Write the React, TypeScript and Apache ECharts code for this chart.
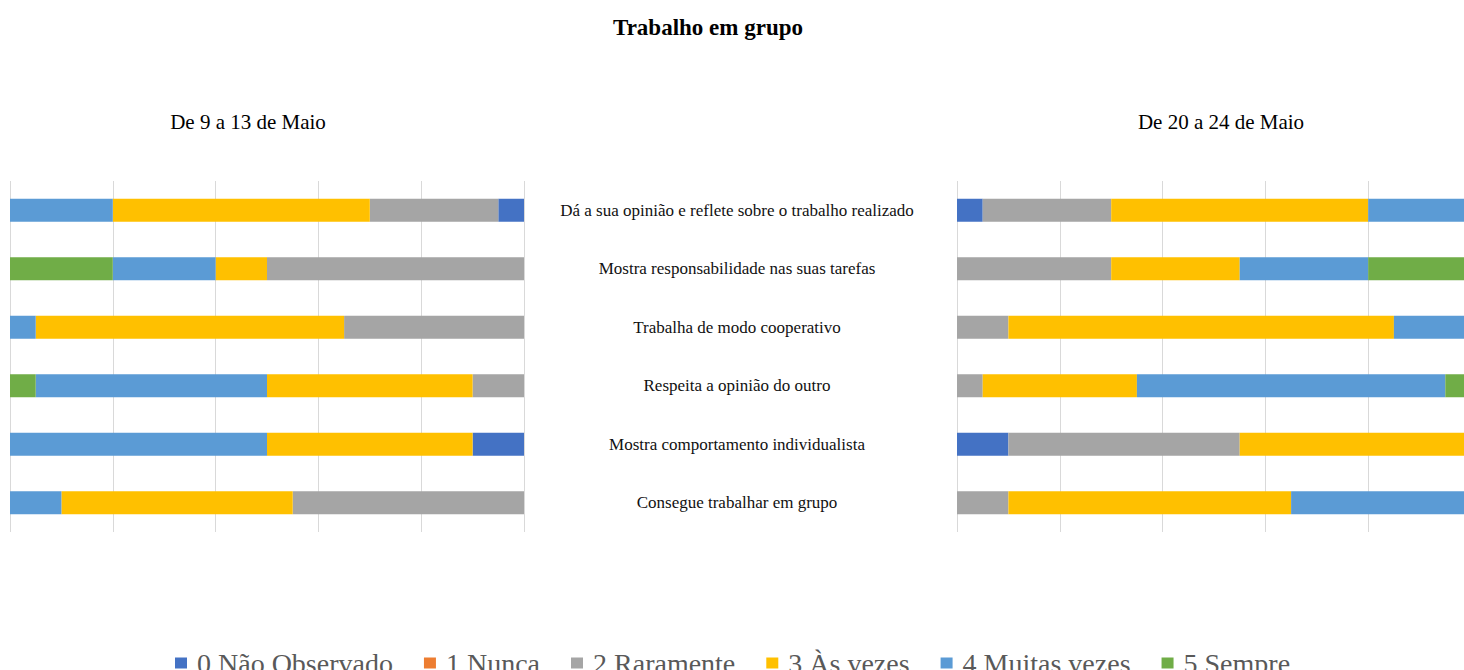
import React, { useEffect, useRef } from "react";
import * as echarts from "echarts";

const categories = [
  "Dá a sua opinião e reflete sobre o trabalho realizado",
  "Mostra responsabilidade nas suas tarefas",
  "Trabalha de modo cooperativo",
  "Respeita a opinião do outro",
  "Mostra comportamento individualista",
  "Consegue trabalhar em grupo",
];

const levels = [
  "0 Não Observado",
  "1 Nunca",
  "2 Raramente",
  "3 Às vezes",
  "4 Muitas vezes",
  "5 Sempre",
];

const colors = ["#4472C4", "#ED7D31", "#A5A5A5", "#FFC000", "#5B9BD5", "#70AD47"];

// Week 1: De 9 a 13 de Maio (one array per level, values per category)
const week1Level0 = [1, 0, 0, 0, 2, 0];
const week1Level1 = [0, 0, 0, 0, 0, 0];
const week1Level2 = [5, 10, 7, 2, 0, 9];
const week1Level3 = [10, 2, 12, 8, 8, 9];
const week1Level4 = [4, 4, 1, 9, 10, 2];
const week1Level5 = [0, 4, 0, 1, 0, 0];

// Week 2: De 20 a 24 de Maio
const week2Level0 = [1, 0, 0, 0, 2, 0];
const week2Level1 = [0, 0, 0, 0, 0, 0];
const week2Level2 = [5, 6, 2, 1, 9, 2];
const week2Level3 = [10, 5, 15, 6, 9, 11];
const week2Level4 = [4, 5, 3, 12, 0, 7];
const week2Level5 = [0, 4, 0, 1, 0, 0];

const week1 = [week1Level0, week1Level1, week1Level2, week1Level3, week1Level4, week1Level5];
const week2 = [week2Level0, week2Level1, week2Level2, week2Level3, week2Level4, week2Level5];

const FONT = '"Liberation Serif", "Times New Roman", serif';
const CHART_W = 1480;

export default function App() {
  const ref = useRef<HTMLDivElement>(null);

  useEffect(() => {
    if (!ref.current) return;
    const chart = echarts.init(ref.current, undefined, { renderer: "svg" });

    const series: any[] = [];
    levels.forEach((name, i) => {
      series.push({
        name,
        type: "bar",
        stack: "w1",
        xAxisIndex: 0,
        yAxisIndex: 0,
        barWidth: 23,
        itemStyle: { color: colors[i] },
        data: week1[i],
      });
      series.push({
        name,
        type: "bar",
        stack: "w2",
        xAxisIndex: 1,
        yAxisIndex: 1,
        barWidth: 23,
        itemStyle: { color: colors[i] },
        data: week2[i],
      });
    });

    chart.setOption({
      animation: false,
      backgroundColor: "#ffffff",
      textStyle: { fontFamily: FONT },
      graphic: [
        {
          type: "text",
          x: 708,
          y: 27,
          style: {
            text: "Trabalho em grupo",
            align: "center",
            verticalAlign: "middle",
            fontFamily: FONT,
            fontWeight: "bold",
            fontSize: 23,
            fill: "#000000",
          },
        },
        {
          type: "text",
          x: 248,
          y: 122,
          style: {
            text: "De 9 a 13 de Maio",
            align: "center",
            verticalAlign: "middle",
            fontFamily: FONT,
            fontSize: 21,
            fill: "#000000",
          },
        },
        {
          type: "text",
          x: 1221,
          y: 122,
          style: {
            text: "De 20 a 24 de Maio",
            align: "center",
            verticalAlign: "middle",
            fontFamily: FONT,
            fontSize: 21,
            fill: "#000000",
          },
        },
      ],
      legend: {
        data: levels,
        left: 170,
        top: 644,
        icon: "rect",
        itemWidth: 12,
        itemHeight: 11,
        itemGap: 31,
        textStyle: { fontFamily: FONT, fontSize: 28, color: "#595959", padding: [0, 0, 0, 5] },
      },
      grid: [
        { left: 10, right: CHART_W - 524, top: 181, bottom: 138 },
        { left: 957, right: CHART_W - 1471, top: 181, bottom: 138 },
      ],
      xAxis: [
        {
          type: "value",
          gridIndex: 0,
          min: 0,
          max: 20,
          interval: 4,
          inverse: true,
          axisLabel: { show: false },
          axisLine: { show: false },
          axisTick: { show: false },
          splitLine: { show: true, lineStyle: { color: "#d9d9d9", width: 1 } },
        },
        {
          type: "value",
          gridIndex: 1,
          min: 0,
          max: 20,
          interval: 4,
          axisLabel: { show: false },
          axisLine: { show: false },
          axisTick: { show: false },
          splitLine: { show: true, lineStyle: { color: "#d9d9d9", width: 1 } },
        },
      ],
      yAxis: [
        {
          type: "category",
          gridIndex: 0,
          data: categories,
          inverse: true,
          position: "right",
          axisLine: { show: false },
          axisTick: { show: false },
          axisLabel: {
            show: true,
            margin: 213,
            align: "center",
            fontFamily: FONT,
            fontSize: 17,
            color: "#111111",
          },
        },
        {
          type: "category",
          gridIndex: 1,
          data: categories,
          inverse: true,
          axisLine: { show: false },
          axisTick: { show: false },
          axisLabel: { show: false },
        },
      ],
      series,
    });

    return () => chart.dispose();
  }, []);

  return (
    <div
      style={{
        position: "absolute",
        left: 0,
        top: 0,
        width: 1464,
        height: 670,
        overflow: "hidden",
        background: "#ffffff",
      }}
    >
      <div ref={ref} style={{ width: CHART_W, height: 670 }} />
    </div>
  );
}
